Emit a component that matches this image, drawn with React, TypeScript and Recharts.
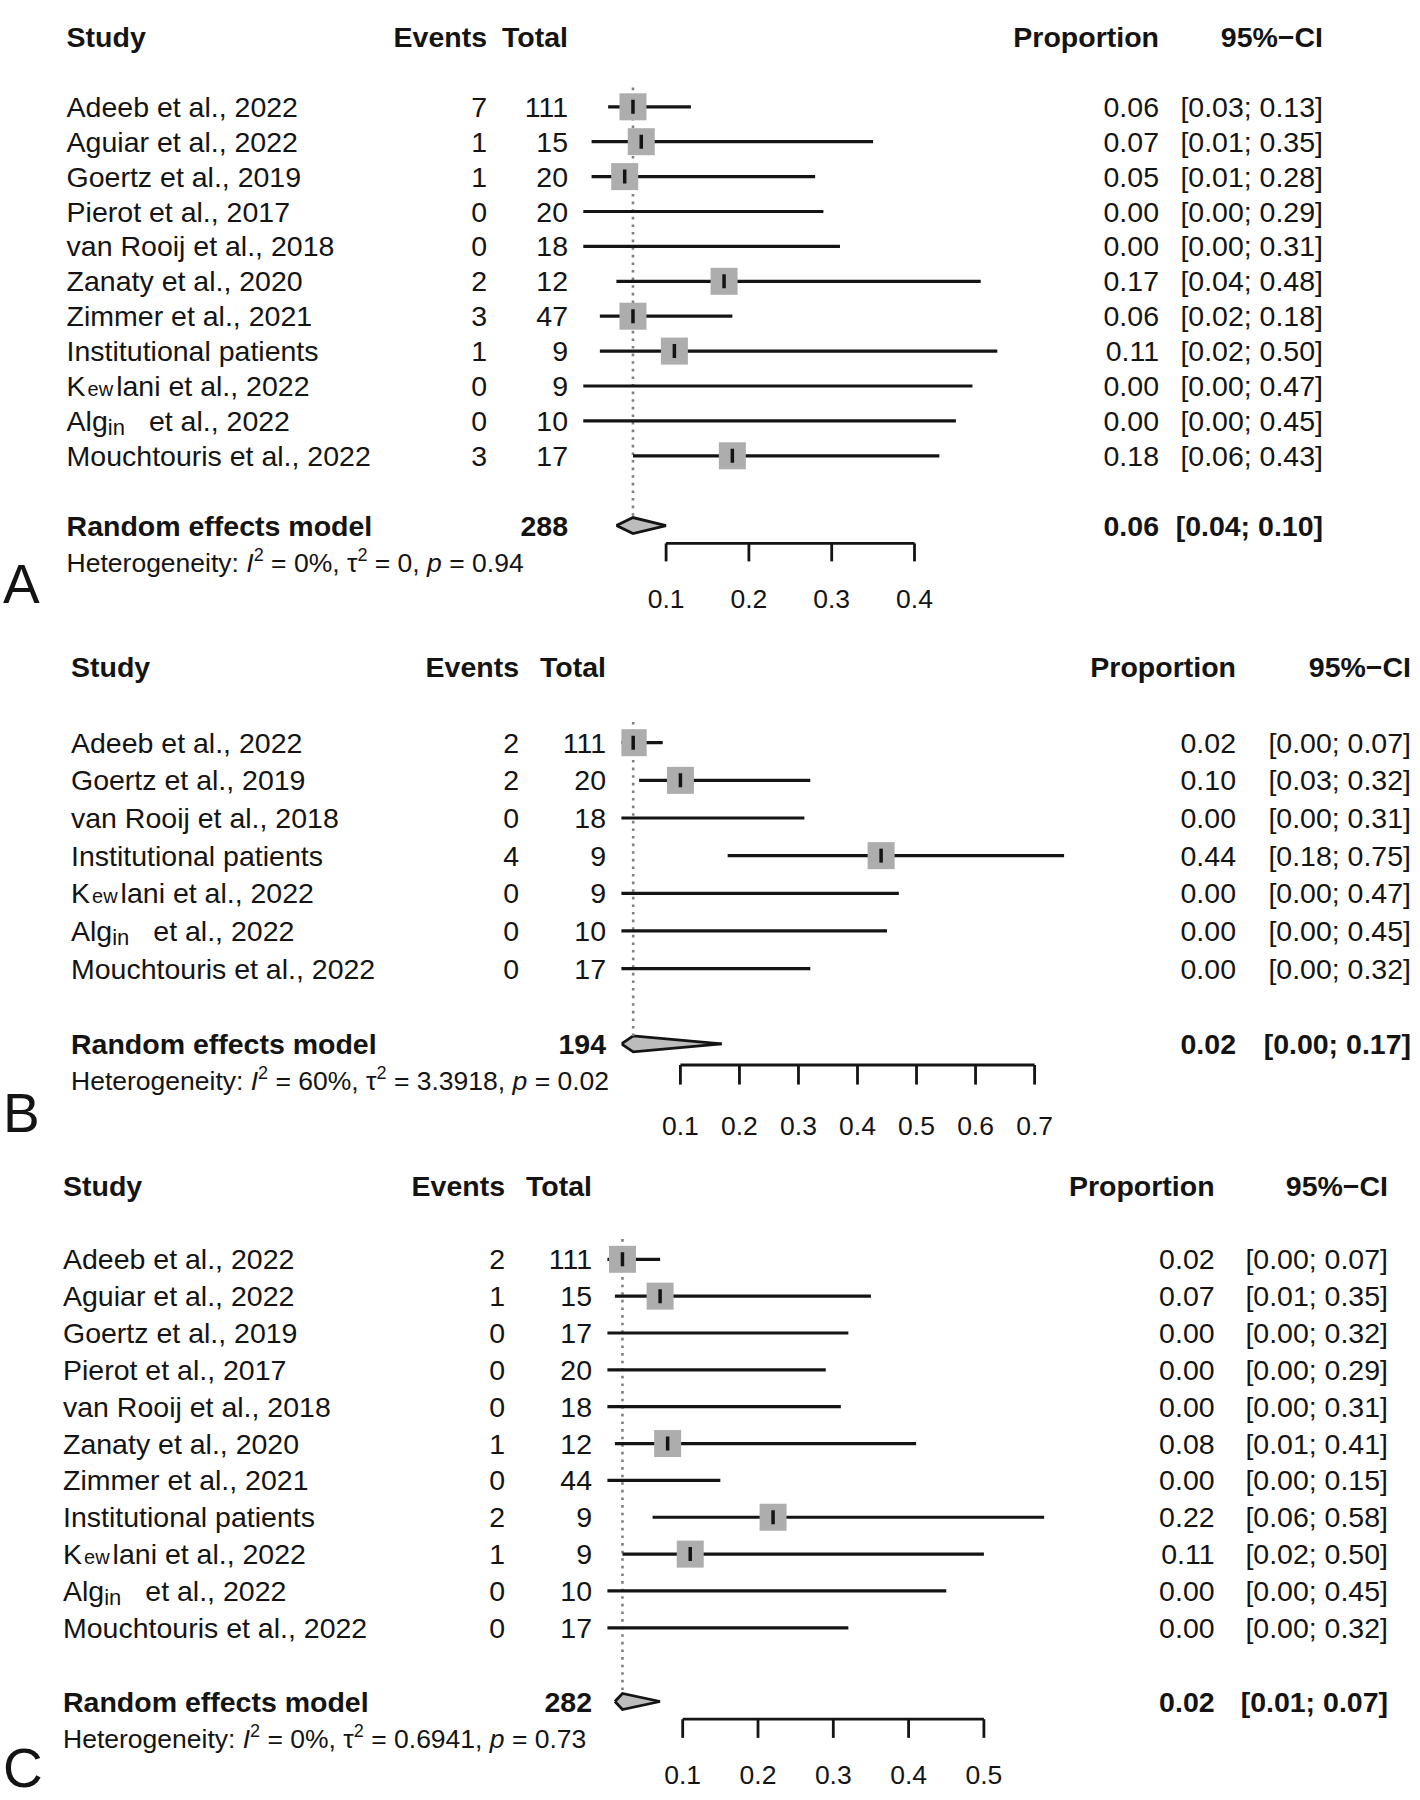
import { ComposedChart, XAxis, YAxis, Scatter, ErrorBar, Area, ReferenceLine } from "recharts";

const FONT = '"Liberation Sans", Arial, Helvetica, sans-serif';
const INK = "#141414";
const BOX = "#adadad";
const DIAMOND = "#bcbcbc";
const DOTS = "#808080";

// ---------- panel A ----------
const studiesA = [
  "Adeeb et al., 2022",
  "Aguiar et al., 2022",
  "Goertz et al., 2019",
  "Pierot et al., 2017",
  "van Rooij et al., 2018",
  "Zanaty et al., 2020",
  "Zimmer et al., 2021",
  "Institutional patients",
  "Kewlani et al., 2022",
  "Algin et al., 2022",
  "Mouchtouris et al., 2022",
];
const eventsA = [7, 1, 1, 0, 0, 2, 3, 1, 0, 0, 3];
const totalsA = [111, 15, 20, 20, 18, 12, 47, 9, 9, 10, 17];
const propA = [0.06, 0.07, 0.05, 0.0, 0.0, 0.17, 0.06, 0.11, 0.0, 0.0, 0.18];
const lowA = [0.03, 0.01, 0.01, 0.0, 0.0, 0.04, 0.02, 0.02, 0.0, 0.0, 0.06];
const highA = [0.13, 0.35, 0.28, 0.29, 0.31, 0.48, 0.18, 0.5, 0.47, 0.45, 0.43];
const pooledA = { total: 288, est: 0.06, low: 0.04, high: 0.1 };
const hetA = { i2: "0%", tau2: "0", p: "0.94" };
const ticksA = [0.1, 0.2, 0.3, 0.4];

// ---------- panel B ----------
const studiesB = [
  "Adeeb et al., 2022",
  "Goertz et al., 2019",
  "van Rooij et al., 2018",
  "Institutional patients",
  "Kewlani et al., 2022",
  "Algin et al., 2022",
  "Mouchtouris et al., 2022",
];
const eventsB = [2, 2, 0, 4, 0, 0, 0];
const totalsB = [111, 20, 18, 9, 9, 10, 17];
const propB = [0.02, 0.1, 0.0, 0.44, 0.0, 0.0, 0.0];
const lowB = [0.0, 0.03, 0.0, 0.18, 0.0, 0.0, 0.0];
const highB = [0.07, 0.32, 0.31, 0.75, 0.47, 0.45, 0.32];
const pooledB = { total: 194, est: 0.02, low: 0.0, high: 0.17 };
const hetB = { i2: "60%", tau2: "3.3918", p: "0.02" };
const ticksB = [0.1, 0.2, 0.3, 0.4, 0.5, 0.6, 0.7];

// ---------- panel C ----------
const studiesC = [
  "Adeeb et al., 2022",
  "Aguiar et al., 2022",
  "Goertz et al., 2019",
  "Pierot et al., 2017",
  "van Rooij et al., 2018",
  "Zanaty et al., 2020",
  "Zimmer et al., 2021",
  "Institutional patients",
  "Kewlani et al., 2022",
  "Algin et al., 2022",
  "Mouchtouris et al., 2022",
];
const eventsC = [2, 1, 0, 0, 0, 1, 0, 2, 1, 0, 0];
const totalsC = [111, 15, 17, 20, 18, 12, 44, 9, 9, 10, 17];
const propC = [0.02, 0.07, 0.0, 0.0, 0.0, 0.08, 0.0, 0.22, 0.11, 0.0, 0.0];
const lowC = [0.0, 0.01, 0.0, 0.0, 0.0, 0.01, 0.0, 0.06, 0.02, 0.0, 0.0];
const highC = [0.07, 0.35, 0.32, 0.29, 0.31, 0.41, 0.15, 0.58, 0.5, 0.45, 0.32];
const pooledC = { total: 282, est: 0.02, low: 0.01, high: 0.07 };
const hetC = { i2: "0%", tau2: "0.6941", p: "0.73" };
const ticksC = [0.1, 0.2, 0.3, 0.4, 0.5];

type Layout = {
  top: number;
  height: number;
  row0: number;
  rowH: number;
  axisRow: number;
  plotLeft: number;
  plotRight: number;
  xMax: number;
  studyX: number;
  eventsX: number;
  totalX: number;
  propX: number;
  ciX: number;
  tickLen: number;
  labelDy: number;
  letterTop: number;
};

const panels = [
  {
    letter: "A",
    studies: studiesA, events: eventsA, totals: totalsA, prop: propA, low: lowA, high: highA,
    pooled: pooledA, het: hetA, ticks: ticksA,
    L: { top: 0, height: 620, row0: 106.8, rowH: 34.9, axisRow: 12.51, plotLeft: 583.3, plotRight: 997.3, xMax: 0.5,
      studyX: 66.6, eventsX: 487, totalX: 568, propX: 1159, ciX: 1323, tickLen: 18, labelDy: 55, letterTop: 561.6 },
  },
  {
    letter: "B",
    studies: studiesB, events: eventsB, totals: totalsB, prop: propB, low: lowB, high: highB,
    pooled: pooledB, het: hetB, ticks: ticksB,
    L: { top: 620, height: 520, row0: 122.7, rowH: 37.65, axisRow: 8.56, plotLeft: 621.4, plotRight: 1093.6, xMax: 0.8,
      studyX: 71, eventsX: 519, totalX: 606, propX: 1236, ciX: 1411, tickLen: 19.6, labelDy: 60.7, letterTop: 1090.6 },
  },
  {
    letter: "C",
    studies: studiesC, events: eventsC, totals: totalsC, prop: propC, low: lowC, high: highC,
    pooled: pooledC, het: hetC, ticks: ticksC,
    L: { top: 1140, height: 660, row0: 119.3, rowH: 36.85, axisRow: 12.48, plotLeft: 607.4, plotRight: 1059.2, xMax: 0.6,
      studyX: 63, eventsX: 505, totalX: 592, propX: 1214.6, ciX: 1388, tickLen: 18.7, labelDy: 55.7, letterTop: 1746 },
  },
];

const txt = { fontFamily: FONT, fontSize: 28.5, fill: INK };
const bold = { ...txt, fontWeight: 700 };

function StudyName({ name }: { name: string }) {
  // the source figure has oddly typeset names here
  if (name.startsWith("Kewlani")) {
    return (
      <>
        <tspan>K</tspan>
        <tspan fontSize={20} dx={2}>ew</tspan>
        <tspan dx={3}>{name.slice(3)}</tspan>
      </>
    );
  }
  if (name.startsWith("Algin")) {
    return (
      <>
        <tspan>Alg</tspan>
        <tspan fontSize={22} dy={4}>in</tspan>
        <tspan dy={-4} dx={24}>{name.slice(6)}</tspan>
      </>
    );
  }
  return <>{name}</>;
}

function ForestPanel({ d }: { d: (typeof panels)[number] }) {
  const L: Layout = d.L;
  const n = d.studies.length;
  const reRow = n + 1;
  const rowIdx = d.studies.map((_, i) => i);
  const points = rowIdx.map((i) => ({
    x: d.prop[i],
    y: i,
    err: [d.prop[i] - d.low[i], d.high[i] - d.prop[i]],
    events: d.events[i],
  }));
  const boxes = points.filter((p) => p.events > 0);
  const dh = 8 / L.rowH;
  const diamond = [
    { x: d.pooled.low, band: [reRow, reRow] },
    { x: d.pooled.est, band: [reRow - dh, reRow + dh] },
    { x: d.pooled.high, band: [reRow, reRow] },
  ];
  const yTicks = [-2, ...rowIdx, reRow];
  const marginTop = L.row0 - 3 * L.rowH;
  const plotBottom = L.row0 + L.axisRow * L.rowH;
  const xAxisH = L.height - plotBottom;
  const yDomain = [-3, L.axisRow];

  const leftTick = (props: any) => {
    const v = props.payload.value;
    const y = props.y;
    const base = y + 10;
    if (v === -2) {
      return (
        <g>
          <text x={L.studyX} y={base} {...bold}>Study</text>
          <text x={L.eventsX} y={base} textAnchor="end" {...bold}>Events</text>
          <text x={L.totalX} y={base} textAnchor="end" {...bold}>Total</text>
        </g>
      );
    }
    if (v === reRow) {
      const hy = y + 36.5 + 9.5;
      return (
        <g>
          <text x={L.studyX} y={base} {...bold}>Random effects model</text>
          <text x={L.totalX} y={base} textAnchor="end" {...bold}>{d.pooled.total}</text>
          <text x={L.studyX} y={hy} {...txt} fontSize={26.5}>
            <tspan>{"Heterogeneity: "}</tspan>
            <tspan fontStyle="italic">I</tspan>
            <tspan dy={-11} fontSize={18}>2</tspan>
            <tspan dy={11}>{" = " + d.het.i2 + ", \u03c4"}</tspan>
            <tspan dy={-11} fontSize={18}>2</tspan>
            <tspan dy={11}>{" = " + d.het.tau2 + ", "}</tspan>
            <tspan fontStyle="italic">p</tspan>
            <tspan>{" = " + d.het.p}</tspan>
          </text>
        </g>
      );
    }
    const i = v as number;
    return (
      <g>
        <text x={L.studyX} y={base} {...txt}>
          <StudyName name={d.studies[i]} />
        </text>
        <text x={L.eventsX} y={base} textAnchor="end" {...txt}>{d.events[i]}</text>
        <text x={L.totalX} y={base} textAnchor="end" {...txt}>{d.totals[i]}</text>
      </g>
    );
  };

  const rightTick = (props: any) => {
    const v = props.payload.value;
    const base = props.y + 10;
    if (v === -2) {
      return (
        <g>
          <text x={L.propX} y={base} textAnchor="end" {...bold}>Proportion</text>
          <text x={L.ciX} y={base} textAnchor="end" {...bold}>{"95%\u2212CI"}</text>
        </g>
      );
    }
    if (v === reRow) {
      const p = d.pooled;
      return (
        <g>
          <text x={L.propX} y={base} textAnchor="end" {...bold}>{p.est.toFixed(2)}</text>
          <text x={L.ciX} y={base} textAnchor="end" {...bold}>{`[${p.low.toFixed(2)}; ${p.high.toFixed(2)}]`}</text>
        </g>
      );
    }
    const i = v as number;
    return (
      <g>
        <text x={L.propX} y={base} textAnchor="end" {...txt}>{d.prop[i].toFixed(2)}</text>
        <text x={L.ciX} y={base} textAnchor="end" {...txt}>{`[${d.low[i].toFixed(2)}; ${d.high[i].toFixed(2)}]`}</text>
      </g>
    );
  };

  const xTick = (props: any) => {
    const { x, y, payload } = props;
    return (
      <g>
        <line x1={x} x2={x} y1={y} y2={y + L.tickLen} stroke={INK} strokeWidth={2.8} />
        <text x={x} y={y + L.labelDy + 9.5} textAnchor="middle" {...txt} fontSize={26.5}>
          {Number(payload.value).toFixed(1)}
        </text>
      </g>
    );
  };

  return (
    <div style={{ position: "absolute", left: 0, top: L.top, width: 1420, height: L.height }}>
      <ComposedChart width={1420} height={L.height} margin={{ top: marginTop, right: 0, bottom: 0, left: 0 }}>
        <XAxis
          type="number"
          dataKey="x"
          domain={[0, L.xMax]}
          allowDataOverflow
          ticks={d.ticks}
          interval={0}
          height={xAxisH}
          axisLine={false}
          tickLine={false}
          tickSize={0}
          tickMargin={0}
          tick={xTick}
        />
        <YAxis
          yAxisId="l"
          type="number"
          dataKey="y"
          domain={yDomain}
          reversed
          allowDataOverflow
          ticks={yTicks}
          interval={0}
          width={L.plotLeft}
          axisLine={false}
          tickLine={false}
          tick={leftTick}
        />
        <YAxis
          yAxisId="r"
          orientation="right"
          type="number"
          domain={yDomain}
          reversed
          allowDataOverflow
          ticks={yTicks}
          interval={0}
          width={1420 - L.plotRight}
          axisLine={false}
          tickLine={false}
          tick={rightTick}
        />
        <ReferenceLine
          yAxisId="l"
          segment={[
            { x: d.pooled.est, y: -0.55 },
            { x: d.pooled.est, y: reRow - dh },
          ]}
          stroke={DOTS}
          strokeWidth={2.6}
          strokeDasharray="2.6 5"
        />
        <ReferenceLine
          yAxisId="l"
          segment={[
            { x: d.ticks[0], y: L.axisRow },
            { x: d.ticks[d.ticks.length - 1], y: L.axisRow },
          ]}
          stroke={INK}
          strokeWidth={2.8}
          ifOverflow="visible"
        />
        <Area
          yAxisId="l"
          data={diamond}
          dataKey="band"
          type="linear"
          fill={DIAMOND}
          fillOpacity={1}
          stroke={INK}
          strokeWidth={2.8}
          isAnimationActive={false}
          dot={false}
          activeDot={false}
        />
        <Scatter
          yAxisId="l"
          data={boxes}
          isAnimationActive={false}
          shape={(s: any) => <rect x={s.cx - 13.5} y={s.cy - 13.5} width={27} height={27} fill={BOX} />}
        />
        <Scatter
          yAxisId="l"
          data={points}
          isAnimationActive={false}
          shape={(s: any) =>
            s.payload && s.payload.events > 0 ? (
              <line x1={s.cx} x2={s.cx} y1={s.cy - 7} y2={s.cy + 7} stroke={INK} strokeWidth={3.5} />
            ) : (
              <g />
            )
          }
        >
          <ErrorBar dataKey="err" direction="x" width={0} stroke={INK} strokeWidth={3.2} isAnimationActive={false} />
        </Scatter>
      </ComposedChart>
    </div>
  );
}

export default function App() {
  return (
    <div style={{ position: "relative", width: 1420, height: 1800, background: "#fff", fontFamily: FONT }}>
      <style>{"body{margin:0;background:#fff}"}</style>
      {panels.map((p) => (
        <ForestPanel key={p.letter} d={p} />
      ))}
      {panels.map((p) => (
        <div
          key={"lbl" + p.letter}
          style={{
            position: "absolute",
            left: 3,
            top: p.L.letterTop,
            fontSize: 55,
            lineHeight: "44px",
            color: INK,
            fontFamily: FONT,
          }}
        >
          {p.letter}
        </div>
      ))}
    </div>
  );
}
